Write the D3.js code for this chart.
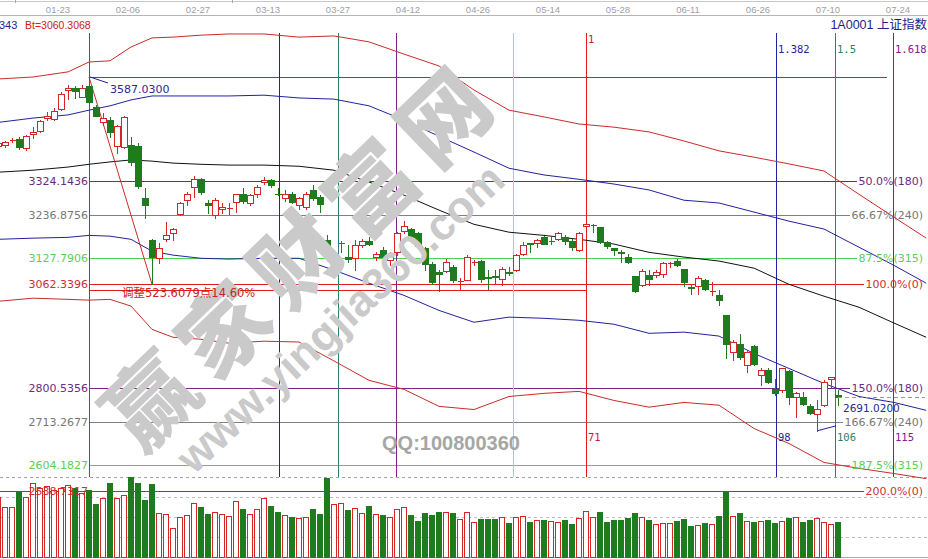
<!DOCTYPE html>
<html><head><meta charset="utf-8">
<script src="https://cdn.jsdelivr.net/npm/d3@7/dist/d3.min.js"></script>
<style>html,body{margin:0;padding:0;background:#fff;overflow:hidden}svg{display:block}</style>
</head><body>
<svg id="chart" width="928" height="559"></svg>
<script>
// ---------------- DATA ----------------
const startIndex = -13;          // bar index of first bar (0 = 01-29 high bar)
const opens = [3412,3415,3426,3430,3406,3442,3450,3483,3481,3506,3555,3560,3537,
 3564,3510,3473,3478,3412,3410,3416,3412,3280,3174,3129,3178,3191,3239,3275,3309,3328,3268,3237,3254,3252,3271,3292,3267,3292,3322,3326,3292,3280,3290,3263,3258,3301,3284,3174,3121,3165,3130,3129,3161,3171,3132,3148,3123,3144,3197,3203,3191,3153,3113,3093,3096,3106,3067,3072,3117,3121,3080,3082,3075,3094,3098,3138,3166,3167,3182,3170,3178,3182,3172,3150,3209,3211,3206,3168,3153,3145,3130,3083,3060,3085,3085,3089,3113,3121,3100,3055,3057,3072,3044,3036,2984,2891,2912,2859,2906,2833,2844,2798,2794,2842,2777,2777,2754,2734,2756,2822,2781];
const highs = [3425,3426,3432,3436,3440,3461,3478,3498,3508,3548,3567,3565,3567,
 3587.03,3516,3495,3486,3465,3488,3436,3419,3305,3176,3166,3220,3204,3270,3296,3337,3331,3275,3280,3267,3268,3292,3305,3292,3313,3334,3330,3305,3301,3296,3284,3295,3313,3288,3186,3144,3172,3161,3174,3178,3182,3144,3157,3144,3195,3222,3205,3195,3157,3119,3098,3127,3110,3079,3136,3123,3123,3098,3098,3106,3105,3138,3170,3167,3178,3185,3181,3195,3187,3178,3195,3215,3214,3208,3172,3155,3150,3140,3083,3100,3098,3098,3119,3119,3127,3102,3064,3083,3075,3067,3047,2984,2922,2937,2895,2908,2849,2849,2823,2850,2844,2789,2789,2760,2768,2819,2827,2794];
const lows = [3405,3410,3423,3404,3403,3432,3449,3478,3478,3503,3531,3534,3536,
 3523,3488,3465,3435,3394,3407,3365,3306,3229,3062.34,3116,3172,3174,3238,3263,3284,3290,3242,3230,3242,3239,3246,3267,3263,3284,3315,3309,3288,3273,3269,3254,3254,3275,3246,3136,3110,3144,3119,3098,3157,3161,3123,3126,3110,3136,3192,3178,3157,3098,3064,3045,3093,3068,3047,3072,3110,3068,3051,3065,3060,3085,3095,3136,3144,3157,3163,3163,3174,3165,3148,3147,3205,3194,3167,3155,3136,3119,3115,3043,3057,3060,3081,3081,3106,3108,3057,3037,3037,3047,3035,3009,2875,2871,2874,2840,2857,2806,2811,2781,2789,2760,2726,2756,2733,2691.02,2754,2802,2756];
const closes = [3420,3423,3428,3410,3437,3448,3476,3488,3501,3545,3558,3552,3558,
 3524,3489,3482,3448,3463,3486,3371,3311,3264,3131,3154,3187,3201,3269,3292,3330,3295,3263,3275,3257,3256,3290,3273,3288,3309,3326,3313,3290,3292,3271,3280,3292,3281,3265,3154,3133,3167,3127,3161,3171,3165,3138,3130,3138,3191,3209,3182,3159,3113,3068,3088,3119,3072,3070,3130,3119,3075,3078,3080,3102,3091,3136,3161,3164,3174,3165,3173,3191,3172,3157,3193,3214,3213,3169,3159,3150,3141,3119,3045,3095,3075,3093,3115,3115,3112,3068,3052,3079,3051,3046,3022,2912,2916,2878,2891,2861,2844,2815,2787,2849,2777,2787,2760,2736,2747,2815,2827,2778];
const volumes = [60,50,50,66,60,74,69,71,67,69,72,69,64,
 67,53,59,74,59,62,80,74,57,73,44,43,29,40,42,54,50,43,45,43,41,56,48,43,48,59,51,45,42,40,39,40,48,43,79,53,54,47,49,44,51,43,42,40,48,50,42,36,44,42,45,45,44,38,45,35,38,38,38,40,34,40,41,35,37,37,36,35,37,33,39,46,40,45,35,37,37,39,44,40,37,33,34,34,36,38,31,32,34,33,41,65,41,44,36,35,36,37,34,36,39,40,35,37,39,35,33,35];

// band lines (bar index -> price)
const bandIdx   = [-13,-8,-3,0,3,6,9,12,16,20,25,30,35,40,45,50,55,60,65,70,75,80,85,90,95,100,105,110,115,119.6];
const upperRed  = [3582,3587,3600,3625,3628,3663,3686,3688,3693,3696,3696,3688,3691,3676,3645,3615,3554,3503,3486,3468,3460,3448,3425,3400,3384,3367,3349,3290,3232,3179];
const upperBlue = [3472,3483,3491,3503,3514,3529,3539,3539,3539,3539,3541,3534,3531,3514,3478,3437,3397,3356,3339,3328,3316,3301,3275,3268,3245,3222,3202,3156,3110,3065];
const midBlack  = [3346,3351,3359,3366,3372,3377,3374,3369,3366,3364,3364,3361,3351,3321,3288,3250,3214,3194,3186,3176,3164,3143,3131,3121,3103,3062,3032,3004,2964,2928];
const lowerBlue = [3176,3179,3181,3186,3184,3176,3146,3136,3128,3126,3128,3128,3098,3065,3034,2996,2966,2979,2976,2971,2961,2938,2941,2931,2887,2849,2811,2778,2763,2743];
const lowerRed  = [3019,3027,3024,3022,3024,3007,2948,2928,2923,2913,2918,2916,2868,2819,2796,2753,2745,2778,2786,2791,2768,2751,2763,2756,2697,2659,2611,2596,2583,2570];

// price levels (fibonacci / gann)
const levelPrices = [3324.1436,3236.8756,3127.7906,3062.3396,2800.5356,2713.2677,2604.1827,2538.7317];
const levelPct    = ["50.0%(180)","66.67%(240)","87.5%(315)","100.0%(0)","150.0%(180)","166.67%(240)","187.5%(315)","200.0%(0)"];
const levelKind   = ["p","g","l","r","p","g","l","r"];

// fibonacci time lines
const fibBars   = 71;
const fibRatios = [0,0.382,0.5,0.618,0.854,1,1.382,1.5,1.618];
const fibKind   = ["r","n","t","p","b","r","n","t","p"];
const fibTopText = ["","","","","","1","1.382","1.5","1.618"];
const fibBotText = ["","","","","","71","98","106","115"];

// date axis
const dateLabels = ["01-23","02-06","02-27","03-13","03-27","04-12","04-26","05-14","05-28","06-11","06-26","07-10","07-24"];
const dateIdx    = [-4,6,16,26,36,46,56,66,76,86,96,106,116];

const highPrice = 3587.03, highIdx = 0;
const lowPrice = 3062.3396, lowIdx = 9;
const minPrice = 2691.02, minIdx = 104;

// ---------------- STYLE ----------------
const C = {r:"#e01c1c", n:"#2222a0", t:"#2a806c", p:"#80208c", b:"#a8c8dc", g:"#808080", l:"#4fd04f"};
const LBL = {r:"#cc3030", p:"#6c2a82", g:"#777777", l:"#5ccc5c"};
const UP = "#d42626", DOWN = "#1e7c1e";
const NUMF = "DejaVu Sans";

const svg = d3.select("#chart");
svg.append("rect").attr("width",928).attr("height",559).attr("fill","#fff");

const x  = d3.scaleLinear().domain([0, fibBars]).range([89, 586]);
const y  = d3.scaleLinear().domain([2538.7317, 3587.03]).range([491, 77]);
const yv = d3.scaleLinear().domain([0, 80]).range([557, 477]);
const cr = v => Math.round(v) + 0.5;

// ---------- watermark ----------
svg.append("text").attr("transform","translate(298,250) rotate(-44)")
  .attr("text-anchor","middle").attr("dominant-baseline","central")
  .attr("font-family","Noto Sans CJK SC").attr("font-weight",900).attr("font-size",88)
  .attr("letter-spacing",14).attr("fill","#cacaca").text("赢家财富网");
svg.append("text").attr("transform","translate(340,318) rotate(-43)")
  .attr("text-anchor","middle").attr("dominant-baseline","central")
  .attr("font-family","Liberation Sans").attr("font-weight",700).attr("font-size",44)
  .attr("fill","#cacaca").text("www.yingjia360.com");

// ---------- top axis ----------
svg.append("line").attr("x1",0).attr("x2",928).attr("y1",1.5).attr("y2",1.5).attr("stroke","#c8c8c8");
[15,232].forEach(v=>svg.append("line").attr("x1",v+0.5).attr("x2",v+0.5).attr("y1",0).attr("y2",3).attr("stroke","#aaa"));
svg.append("line").attr("x1",0).attr("x2",928).attr("y1",15.5).attr("y2",15.5).attr("stroke","#b4b4b4");
svg.append("g").selectAll("text").data(dateLabels).join("text")
  .attr("x",(d,i)=>x(dateIdx[i])-3).attr("y",12.5).attr("text-anchor","middle")
  .attr("font-family","Liberation Sans").attr("font-size",9.5).attr("fill","#a0a0a0").text(d=>d);

// header
svg.append("text").attr("x",-1).attr("y",29).attr("font-family","Liberation Sans").attr("font-size",11)
  .attr("fill","#1f1f85").text("343");
svg.append("text").attr("x",25).attr("y",29).attr("font-family","Liberation Sans").attr("font-size",10.5)
  .attr("fill","#cc2020").text("Bt=3060.3068");
svg.append("text").attr("x",927).attr("y",29).attr("text-anchor","end").attr("font-family","Liberation Sans, Noto Sans CJK SC").attr("font-size",12.5)
  .attr("fill","#1f1f85").text("1A0001  上证指数");

// ---------- volume grid ----------
[20,40,60,80].forEach(v=>svg.append("line").attr("x1",0).attr("x2",928).attr("y1",cr(yv(v))).attr("y2",cr(yv(v)))
  .attr("stroke", v===80?"#a0a0a0":"#bdbdbd").attr("stroke-dasharray","3,3"));
svg.append("line").attr("x1",0).attr("x2",928).attr("y1",cr(yv(0))).attr("y2",cr(yv(0))).attr("stroke","#a8a8a8");

// ---------- price levels ----------
const gLv = svg.append("g").attr("shape-rendering","crispEdges");
const gLbl = svg.append("g");
levelPrices.forEach((p,i)=>{
  const k = levelKind[i];
  const t = gLbl.append("text").attr("x",923).attr("y",y(p)+4).attr("text-anchor","end")
    .attr("font-family",NUMF).attr("font-size",11).attr("fill",LBL[k]).text(levelPct[i]);
  const w = t.node().getComputedTextLength();
  gLv.append("line").attr("x1", i===7?0:x(0)).attr("x2",923-w-1)
    .attr("y1",cr(y(p))).attr("y2",cr(y(p))).attr("stroke",C[k]);
  gLbl.append("text").attr("x",88).attr("y",y(p)+4).attr("text-anchor","end")
    .attr("font-family",NUMF).attr("font-size",11).attr("fill",LBL[k]).text(p.toFixed(4));
});
// high level & adjustment line
gLv.append("line").attr("x1",x(0)).attr("x2",x(fibBars*fibRatios[8])-6)
  .attr("y1",cr(y(highPrice))).attr("y2",cr(y(highPrice))).attr("stroke",C.r);
gLv.append("line").attr("x1",x(0)).attr("x2",x(fibBars))
  .attr("y1",cr(y(lowPrice))+6).attr("y2",cr(y(lowPrice))+6).attr("stroke",C.r);

// ---------- fibonacci time lines ----------
const gT = svg.append("g").attr("shape-rendering","crispEdges");
fibRatios.forEach((r,i)=>{
  const xx = cr(x(r*fibBars));
  gT.append("line").attr("x1",xx).attr("x2",xx).attr("y1",33).attr("y2",477).attr("stroke",C[fibKind[i]]);
  const col = fibKind[i]==="r"?"#cc2222":C[fibKind[i]];
  if (fibTopText[i]) svg.append("text").attr("x",xx+1.5).attr("y", i===5?43:53)
    .attr("font-family","DejaVu Sans Mono").attr("font-size",10.5).attr("fill",col).text(fibTopText[i]);
  if (fibBotText[i]) svg.append("text").attr("x",xx+1.5).attr("y",441)
    .attr("font-family","DejaVu Sans Mono").attr("font-size",10.5).attr("fill",col).text(fibBotText[i]);
});

// ---------- bands ----------
const bandLine = arr => d3.line().x((d,i)=>x(bandIdx[i])).y(d=>y(d))(arr);
[[upperRed,"#cc2a2a"],[upperBlue,"#2222a0"],[midBlack,"#111"],[lowerBlue,"#2222a0"],[lowerRed,"#cc2a2a"]]
  .forEach(([a,c])=>svg.append("path").attr("d",bandLine(a)).attr("fill","none").attr("stroke",c).attr("stroke-width",1));

// ---------- annotations ----------
svg.append("line").attr("x1",x(highIdx)).attr("y1",y(highPrice)).attr("x2",x(lowIdx)).attr("y2",y(lowPrice))
  .attr("stroke","#cc2a2a");
svg.append("line").attr("x1",x(highIdx)+1).attr("y1",y(highPrice)).attr("x2",x(highIdx)+19).attr("y2",y(highPrice)+6)
  .attr("stroke","#2222a0");
svg.append("text").attr("x",x(highIdx)+21).attr("y",y(highPrice)+16).attr("font-family",NUMF).attr("font-size",11)
  .attr("fill","#2a2a90").text(highPrice.toFixed(4));
svg.append("line").attr("x1",x(minIdx)).attr("y1",y(minPrice)).attr("x2",x(minIdx)+19).attr("y2",y(minPrice)-5)
  .attr("stroke","#2222a0");
svg.append("text").attr("x",x(minIdx)+26).attr("y",y(minPrice)-19).attr("font-family",NUMF).attr("font-size",10.5)
  .attr("fill","#2a2a90").text(minPrice.toFixed(4));
svg.append("text").attr("x",x(highIdx)+33).attr("y",y(lowPrice)+13)
  .attr("font-family","DejaVu Sans, Noto Sans CJK SC").attr("font-size",11.5).attr("fill","#cc2222")
  .text("调整" + (3585.9475-lowPrice).toFixed(4) + "点" + "14.60%");

// ---------- candles ----------
const bars = opens.map((o,k)=>({i:startIndex+k,o,h:highs[k],l:lows[k],c:closes[k],v:volumes[k]}));
const gC = svg.append("g").attr("shape-rendering","crispEdges");
bars.forEach(b=>{
  const up = b.c >= b.o;
  const col = up ? UP : DOWN;
  const cx = cr(x(b.i));
  const top = Math.round(y(Math.max(b.o,b.c))), bot = Math.round(y(Math.min(b.o,b.c)));
  const hy = Math.round(y(b.h)), ly = Math.round(y(b.l));
  if (up) {
    if (bot - top < 2) {
      gC.append("line").attr("x1",cx).attr("x2",cx).attr("y1",hy).attr("y2",ly+1).attr("stroke",col);
      gC.append("line").attr("x1",cx-3).attr("x2",cx+3).attr("y1",top+0.5).attr("y2",top+0.5).attr("stroke",col);
    } else {
      gC.append("line").attr("x1",cx).attr("x2",cx).attr("y1",hy).attr("y2",top).attr("stroke",col);
      gC.append("line").attr("x1",cx).attr("x2",cx).attr("y1",bot+1).attr("y2",ly+1).attr("stroke",col);
      gC.append("rect").attr("x",cx-3).attr("y",top+0.5).attr("width",6).attr("height",bot-top)
        .attr("fill","#fff").attr("stroke",col);
    }
  } else {
    gC.append("line").attr("x1",cx).attr("x2",cx).attr("y1",hy).attr("y2",ly+1).attr("stroke",col);
    gC.append("rect").attr("x",cx-3.5).attr("y",top).attr("width",7).attr("height",Math.max(1,bot-top+1))
      .attr("fill",col);
  }
});

// ---------- volume ----------
const gV = svg.append("g").attr("shape-rendering","crispEdges");
bars.forEach(b=>{
  const up = b.c >= b.o;
  const cx = cr(x(b.i));
  const top = Math.round(yv(b.v));
  if (up) gV.append("rect").attr("x",cx-3).attr("y",top+0.5).attr("width",5).attr("height",557-top)
      .attr("fill","#fff").attr("stroke",UP);
  else gV.append("rect").attr("x",cx-3.5).attr("y",top).attr("width",6).attr("height",558-top).attr("fill",DOWN);
});
// labels over volume area
gLbl.raise();
svg.selectAll("text").raise();

// last price dashed
svg.append("line").attr("x1",x(bars[bars.length-1].i)).attr("x2",925)
  .attr("y1",cr(y(closes[closes.length-1]))).attr("y2",cr(y(closes[closes.length-1])))
  .attr("stroke","#999").attr("stroke-dasharray","4,3");

// QQ
svg.append("text").attr("x",451).attr("y",450).attr("text-anchor","middle")
  .attr("font-family","Liberation Sans").attr("font-weight",700).attr("font-size",20)
  .attr("fill","#a6a6a6").text("QQ:100800360");
</script>
</body></html>
